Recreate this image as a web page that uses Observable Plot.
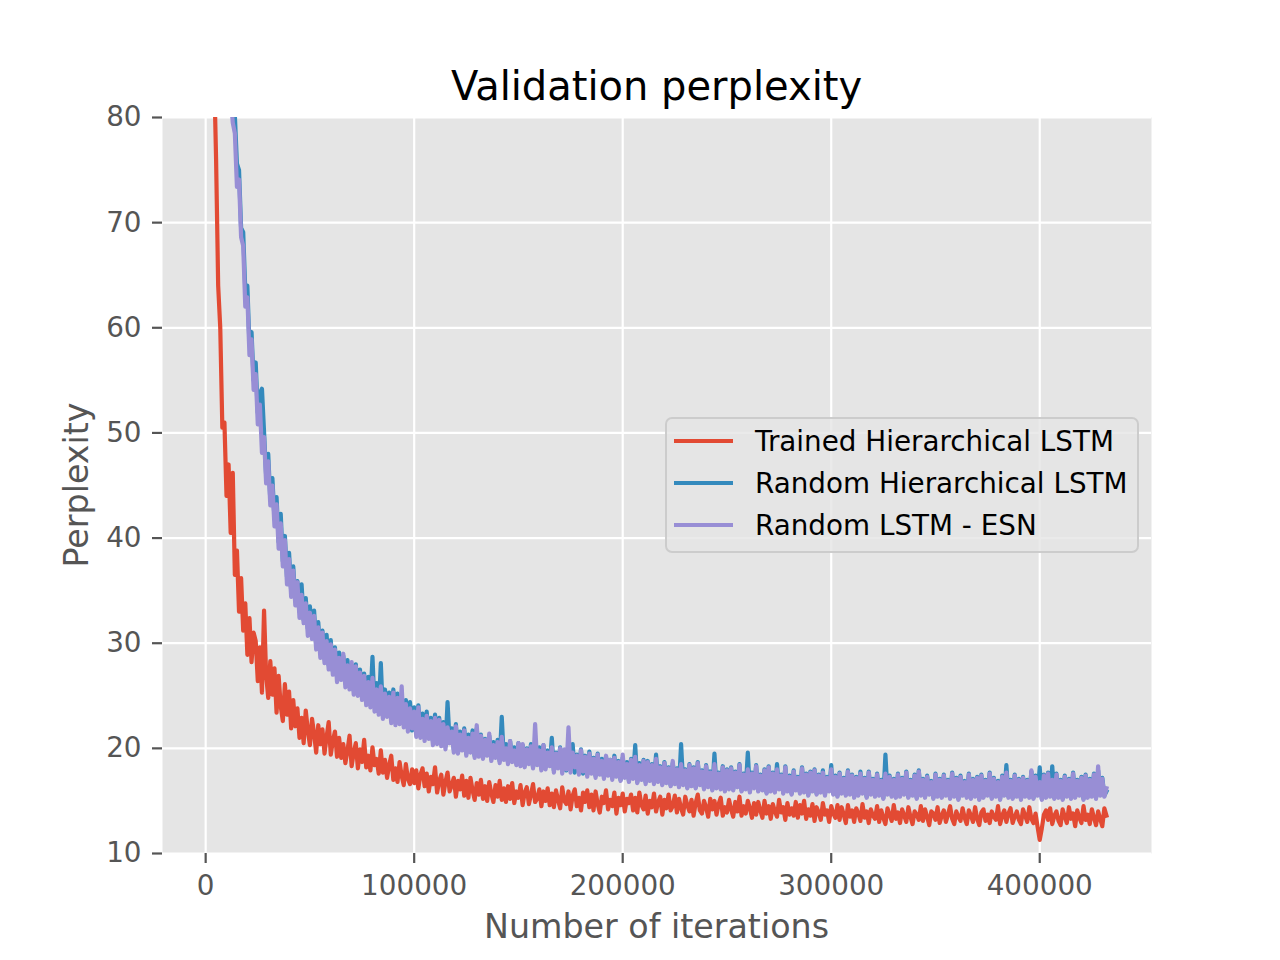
<!DOCTYPE html>
<html>
<head>
<meta charset="utf-8">
<script src="https://cdn.jsdelivr.net/npm/d3@7"></script>
<script src="https://cdn.jsdelivr.net/npm/@observablehq/plot@0.6"></script>
<style>
  html, body { margin: 0; padding: 0; background: white; overflow: hidden; }
  #chart { position: relative; width: 1280px; height: 960px; }
</style>
</head>
<body>
<div id="chart"></div>
<script>
// ---- Data ----
const seriesNames = ["Trained Hierarchical LSTM", "Random Hierarchical LSTM", "Random LSTM - ESN"];
const seriesColors = ["#E24A33", "#348ABD", "#988ED5"];
const iterStep = 1000;
const trainedStart = 4000;
const randomStart = 12000;
const xTicks = [0, 100000, 200000, 300000, 400000];
const yTicks = [10, 20, 30, 40, 50, 60, 70, 80];

// Trained Hierarchical LSTM: iterations 4000..432000, every 1000
const trained = [
  85, 76, 64, 60, 50.5, 51, 44, 47, 40.5, 46.2, 36.5, 38.8, 33, 36.2, 31.2, 33.8, 28.9, 32.4, 28.2, 31.0,
  30.2, 26.4, 29.6, 25.3, 33.1, 27.0, 24.8, 28.3, 25.1, 27.6, 23.4, 26.9, 24.0, 22.6, 26.1, 23.2, 25.4, 21.9, 24.6, 22.1,
  23.8, 21.0, 22.9, 20.5, 23.6, 21.7, 20.3, 22.8, 21.4, 19.6, 22.2, 20.4, 21.8, 19.5, 21.1, 22.5, 19.4, 20.7, 21.6, 19.2,
  21.0, 19.1, 20.4, 18.6, 19.8, 21.2, 18.3, 19.6, 20.5, 18.1, 19.9, 18.7, 20.8, 18.2, 19.3, 17.9, 20.1, 18.4, 19.0, 17.6,
  19.8, 17.7, 18.9, 17.2, 18.4, 19.3, 17.0, 18.1, 16.8, 18.7, 17.4, 16.5, 18.5, 17.1, 16.6, 18.0, 16.7, 17.9, 16.2, 17.5,
  18.1, 16.4, 17.6, 15.9, 17.3, 16.6, 18.2, 15.8, 16.9, 17.5, 15.6, 16.8, 17.7, 15.9, 16.5, 17.2, 15.4, 16.9, 16.1, 17.4,
  15.5, 16.9, 15.3, 17.2, 16.0, 15.1, 16.7, 15.6, 17.0, 15.2, 16.4, 15.0, 16.8, 15.7, 14.9, 16.5, 15.4, 16.9, 15.1, 16.2,
  14.9, 16.4, 15.2, 16.7, 14.8, 15.9, 15.3, 16.5, 14.6, 15.8, 16.3, 14.7, 15.6, 16.6, 14.9, 15.2, 16.1, 14.5, 15.9, 15.0,
  16.2, 14.6, 15.7, 14.4, 16.0, 15.1, 14.3, 16.3, 15.0, 14.7, 15.9, 14.2, 15.5, 16.1, 14.5, 15.3, 14.1, 15.8, 14.9, 16.0,
  14.4, 15.6, 14.1, 15.9, 14.7, 13.9, 15.4, 14.8, 16.0, 14.2, 15.1, 14.5, 15.8, 13.8, 15.3, 14.6, 15.7, 14.0, 15.2, 14.8,
  15.6, 14.1, 15.3, 13.9, 15.8, 14.6, 14.2, 15.5, 13.8, 15.0, 14.4, 15.7, 14.0, 14.9, 15.4, 13.7, 15.1, 14.3, 15.6, 14.1,
  14.5, 15.5, 13.9, 15.2, 14.3, 13.7, 15.4, 14.6, 14.0, 15.1, 13.6, 14.8, 15.6, 14.1, 13.8, 15.0, 14.4, 13.5, 15.2, 14.2,
  15.0, 13.7, 14.7, 15.3, 13.6, 14.4, 13.9, 15.1, 14.2, 13.5, 14.9, 14.0, 15.4, 13.6, 14.5, 13.8, 15.0, 14.3, 13.4, 14.8,
  13.7, 14.9, 14.1, 13.4, 15.0, 13.8, 14.5, 13.3, 14.7, 14.0, 13.5, 15.1, 13.9, 14.4, 13.2, 14.8, 13.7, 14.3, 13.6, 14.9,
  13.4, 14.6, 13.8, 15.0, 13.3, 14.2, 13.6, 14.7, 13.1, 14.4, 13.9, 13.2, 14.8, 13.7, 14.1, 13.0, 14.5, 13.8, 13.4, 14.6,
  13.2, 14.4, 13.7, 12.9, 14.6, 13.5, 14.1, 13.0, 14.3, 13.8, 13.1, 14.7, 13.4, 14.0, 12.9, 14.2, 13.6, 13.3, 14.5, 13.0,
  14.1, 13.4, 12.8, 14.3, 13.7, 13.1, 14.6, 13.3, 13.9, 12.9, 14.2, 13.6, 13.0, 14.4, 13.5, 12.8, 14.0, 13.7, 13.2, 14.5,
  13.1, 14.2, 13.5, 12.7, 14.0, 13.8, 13.2, 14.4, 12.9, 13.6, 14.1, 13.0, 13.7, 14.5, 13.3, 12.8, 14.0, 13.5, 13.1, 14.3,
  13.4, 12.8, 14.1, 13.6, 13.0, 14.4, 13.3, 12.7, 13.9, 14.2, 13.1, 13.7, 12.9, 14.0, 13.5, 13.2, 14.5, 12.8, 13.6, 14.1,
  13.0, 13.8, 14.3, 12.9, 13.5, 14.0, 13.2, 12.8, 14.2, 13.6, 13.0, 14.4, 13.3, 12.9, 13.8, 12.5, 11.3, 12.4, 13.7, 14.1,
  13.2, 14.3, 12.8, 13.6, 14.0, 13.1, 12.7, 14.2, 13.5, 12.9, 14.4, 13.3, 13.8, 12.6, 14.1, 13.4, 12.9, 14.5, 13.2, 13.7,
  12.8, 14.2, 13.4, 12.7, 14.0, 13.3, 12.6, 14.3, 13.6
];

// Random Hierarchical LSTM: iterations 12000..432000, every 1000
const randomHier = [
  84, 81.5, 80.2, 75.6, 75.0, 69.5, 69.1, 63.6, 64.0, 58.4, 59.6, 55.0, 56.7, 51.9, 53.8, 54.2, 50.1, 46.0, 48.0, 43.6,
  45.7, 41.8, 43.9, 39.6, 42.3, 37.8, 40.2, 36.3, 38.6, 35.0, 37.3, 34.1, 35.9, 33.0, 35.6, 32.2, 34.3, 31.4, 33.5, 30.9,
  33.1, 29.8, 32.0, 29.1, 31.2, 28.5, 30.8, 27.9, 30.3, 27.3, 29.6, 26.9, 29.1, 26.6, 28.8, 26.2, 28.4, 25.9, 27.9, 25.5,
  28.0, 25.4, 27.5, 25.0, 27.1, 24.6, 26.8, 24.4, 28.7, 24.0, 26.2, 23.6, 28.1, 23.3, 25.6, 23.2, 25.3, 22.9, 25.6, 22.6,
  25.2, 22.7, 25.0, 22.3, 24.6, 21.9, 24.4, 21.7, 23.9, 21.4, 24.1, 21.3, 23.3, 21.0, 23.5, 21.1, 22.9, 20.7, 23.2, 20.6,
  22.9, 20.4, 22.5, 20.2, 24.4, 20.6, 21.9, 19.9, 22.3, 19.7, 21.6, 19.9, 21.9, 19.5, 21.3, 19.7, 21.7, 19.3, 21.9, 19.4,
  21.3, 19.2, 20.9, 19.4, 21.2, 19.0, 20.6, 19.2, 20.8, 18.8, 23.0, 19.0, 20.4, 18.7, 20.7, 18.9, 20.1, 18.6, 20.5, 18.5,
  20.3, 18.4, 20.0, 18.6, 20.4, 18.2, 19.7, 18.5, 20.1, 18.1, 20.3, 18.2, 19.8, 18.4, 21.0, 17.9, 19.6, 18.2, 20.1, 17.8,
  19.8, 17.9, 19.5, 18.0, 20.4, 17.7, 19.4, 17.9, 19.9, 17.6, 19.3, 17.5, 19.7, 17.8, 19.1, 17.4, 19.5, 17.6, 19.0, 17.3,
  19.2, 17.5, 18.9, 17.2, 19.3, 17.4, 18.8, 17.0, 19.1, 17.3, 18.7, 16.9, 19.0, 17.2, 20.3, 16.8, 18.6, 17.1, 18.9, 16.8,
  18.8, 17.0, 18.5, 16.8, 19.4, 16.9, 18.3, 16.6, 18.7, 16.8, 18.2, 16.5, 18.6, 16.7, 18.1, 16.4, 20.4, 16.6, 18.0, 16.3,
  18.5, 16.5, 18.2, 16.3, 18.7, 16.6, 17.9, 16.2, 18.4, 16.4, 17.8, 16.1, 19.5, 16.3, 17.7, 16.2, 18.3, 16.0, 18.0, 16.2,
  18.2, 16.1, 17.8, 16.4, 18.5, 16.0, 17.6, 16.2, 19.6, 15.9, 17.7, 16.3, 18.4, 16.0, 17.5, 16.1, 18.0, 15.8, 18.3, 16.0,
  17.7, 15.9, 18.5, 16.2, 17.5, 15.8, 18.3, 16.0, 17.4, 15.7, 17.9, 16.1, 17.3, 15.8, 18.2, 15.9, 17.6, 15.6, 17.8, 16.0,
  18.0, 15.7, 17.5, 15.9, 17.9, 15.6, 17.3, 16.0, 18.4, 15.7, 17.4, 15.5, 17.7, 15.8, 17.2, 15.6, 17.9, 15.7, 17.5, 15.4,
  17.3, 15.6, 17.8, 15.8, 17.2, 15.4, 17.8, 15.7, 17.1, 15.5, 17.6, 15.6, 17.0, 15.3, 19.4, 15.7, 17.4, 15.5, 17.1, 15.4,
  17.6, 15.5, 17.2, 15.7, 17.8, 15.4, 17.0, 15.6, 17.5, 15.3, 17.9, 15.6, 17.1, 15.4, 17.4, 15.7, 16.9, 15.3, 17.6, 15.5,
  17.1, 15.4, 17.5, 15.6, 17.0, 15.3, 17.7, 15.5, 17.2, 15.2, 17.4, 15.6, 16.9, 15.4, 17.6, 15.3, 17.1, 15.5, 17.3, 15.2,
  17.5, 15.4, 17.0, 15.6, 17.7, 15.3, 17.2, 15.5, 16.9, 15.2, 17.4, 15.6, 18.4, 15.4, 17.0, 15.3, 17.5, 15.5, 17.1, 15.2,
  17.3, 15.5, 17.0, 15.4, 17.8, 15.3, 17.4, 15.6, 18.2, 15.2, 17.5, 15.4, 17.7, 15.5, 18.3, 15.3, 17.6, 15.4, 17.0, 15.2,
  17.4, 15.5, 17.1, 15.3, 17.7, 15.4, 17.0, 15.6, 17.3, 15.2, 17.5, 15.4, 17.1, 15.5, 17.6, 15.3, 17.9, 15.6, 17.2, 15.5,
  15.9
];

// Random LSTM - ESN: iterations 12000..432000, every 1000
const randomEsn = [
  82, 79.5, 78.5, 73.4, 74.1, 68.6, 67.8, 62.0, 62.9, 57.4, 58.9, 54.1, 55.6, 50.8, 52.7, 48.1, 49.6, 45.2, 47.3, 43.1,
  45.0, 41.1, 43.2, 39.0, 41.4, 37.3, 39.8, 35.6, 38.0, 34.4, 36.9, 33.6, 35.8, 32.4, 34.6, 31.9, 33.8, 30.7, 32.9, 30.4,
  32.6, 29.4, 31.5, 28.6, 31.0, 28.1, 30.2, 27.5, 29.9, 27.0, 29.4, 26.3, 28.6, 26.5, 29.0, 25.8, 27.9, 25.6, 28.2, 25.1,
  27.8, 25.0, 27.2, 24.6, 26.9, 24.1, 26.3, 23.9, 26.7, 23.5, 25.6, 23.2, 25.9, 22.8, 25.2, 23.0, 24.9, 22.4, 25.3, 22.2,
  24.8, 22.3, 25.9, 22.0, 24.2, 21.6, 23.8, 21.9, 23.5, 21.1, 23.9, 21.0, 22.8, 20.7, 23.1, 20.9, 22.6, 20.3, 22.9, 20.4,
  22.7, 20.2, 22.3, 19.9, 22.0, 20.5, 21.6, 19.6, 22.1, 19.5, 21.3, 19.8, 21.7, 19.3, 21.0, 19.6, 21.4, 19.1, 22.2, 19.2,
  21.2, 19.0, 20.8, 19.3, 21.4, 18.8, 20.3, 19.1, 20.6, 18.6, 21.1, 18.9, 20.0, 18.5, 20.7, 18.7, 19.8, 18.4, 20.5, 18.3,
  20.4, 18.2, 19.9, 18.5, 20.2, 18.1, 22.3, 18.4, 19.8, 17.9, 20.3, 18.0, 19.6, 18.3, 20.1, 17.7, 19.5, 18.1, 20.0, 17.6,
  19.9, 18.0, 22.0, 17.7, 19.6, 18.2, 19.3, 17.5, 19.8, 17.8, 19.2, 17.3, 19.5, 17.6, 19.0, 17.2, 19.4, 17.5, 18.8, 17.1,
  19.3, 17.4, 18.9, 17.0, 19.1, 17.3, 18.7, 16.9, 19.4, 17.2, 18.5, 16.8, 18.9, 17.1, 19.2, 16.7, 18.4, 17.0, 18.8, 16.6,
  18.7, 16.9, 18.4, 16.6, 19.0, 16.8, 18.2, 16.5, 18.6, 16.7, 18.1, 16.4, 18.8, 16.6, 18.0, 16.3, 18.5, 16.5, 17.9, 16.2,
  18.4, 16.4, 18.1, 16.2, 18.6, 16.5, 17.8, 16.1, 18.3, 16.3, 17.7, 16.0, 18.5, 16.2, 17.6, 16.1, 18.2, 15.9, 17.9, 16.1,
  18.1, 16.0, 17.7, 16.3, 18.4, 15.9, 17.5, 16.1, 18.0, 15.8, 17.6, 16.2, 18.3, 15.9, 17.4, 16.0, 17.9, 15.7, 18.2, 15.9,
  17.6, 15.8, 18.0, 16.1, 17.4, 15.7, 18.2, 15.9, 17.3, 15.6, 17.8, 16.0, 17.2, 15.7, 18.1, 15.8, 17.5, 15.5, 17.7, 15.9,
  17.9, 15.6, 17.4, 15.8, 17.7, 15.5, 17.2, 15.9, 18.0, 15.6, 17.3, 15.4, 17.6, 15.7, 17.1, 15.5, 17.8, 15.6, 17.4, 15.3,
  17.2, 15.5, 17.6, 15.7, 17.1, 15.3, 17.7, 15.6, 17.0, 15.4, 17.5, 15.5, 16.9, 15.2, 17.6, 15.6, 17.3, 15.4, 17.0, 15.3,
  17.5, 15.4, 17.1, 15.6, 17.7, 15.3, 16.9, 15.5, 17.4, 15.2, 17.8, 15.5, 17.0, 15.3, 17.3, 15.6, 16.8, 15.2, 17.5, 15.4,
  17.0, 15.3, 17.4, 15.5, 16.9, 15.2, 17.6, 15.4, 17.1, 15.1, 17.3, 15.5, 16.8, 15.3, 17.5, 15.2, 17.0, 15.4, 17.2, 15.1,
  17.4, 15.3, 16.9, 15.5, 17.6, 15.2, 17.1, 15.4, 16.8, 15.1, 17.3, 15.5, 17.7, 15.3, 16.9, 15.2, 17.4, 15.4, 17.0, 15.1,
  17.2, 15.4, 16.9, 15.3, 17.9, 15.2, 17.3, 15.5, 16.8, 15.1, 17.4, 15.3, 17.6, 15.4, 17.0, 15.2, 17.5, 15.3, 16.9, 15.1,
  17.3, 15.4, 17.0, 15.2, 17.6, 15.3, 16.9, 15.5, 17.2, 15.1, 17.4, 15.3, 17.0, 15.4, 17.5, 15.2, 18.3, 15.5, 17.1, 15.4,
  16.2
];

// ---- Build tidy rows ----
const toRows = (values, start) => values.map((v, i) => ({iter: start + i * iterStep, value: v}));
const rowsTrained = toRows(trained, trainedStart);
const rowsHier = toRows(randomHier, randomStart);
const rowsEsn = toRows(randomEsn, randomStart);

const W = 1280, H = 960;
const mLeft = 162, mRight = 129, mTop = 117, mBottom = 107;
const lineOpts = {strokeWidth: 4.2, strokeLinejoin: "round", strokeLinecap: "square", clip: true};

const svg = Plot.plot({
  width: W,
  height: H,
  marginLeft: mLeft,
  marginRight: mRight,
  marginTop: mTop,
  marginBottom: mBottom,
  style: {fontFamily: "DejaVu Sans", background: "white", overflow: "visible"},
  x: {domain: [-20700, 453600], label: null},
  y: {domain: [10, 80], label: null},
  marks: [
    Plot.frame({fill: "#E5E5E5", stroke: "none"}),
    Plot.gridX({ticks: xTicks, stroke: "white", strokeOpacity: 1, strokeWidth: 2.2}),
    Plot.gridY({ticks: yTicks, stroke: "white", strokeOpacity: 1, strokeWidth: 2.2}),
    Plot.lineY(rowsTrained, {x: "iter", y: "value", stroke: seriesColors[0], ...lineOpts}),
    Plot.lineY(rowsHier, {x: "iter", y: "value", stroke: seriesColors[1], ...lineOpts}),
    Plot.lineY(rowsEsn, {x: "iter", y: "value", stroke: seriesColors[2], ...lineOpts}),
    Plot.axisX({ticks: xTicks, tickFormat: d => String(d), tickSize: 10, tickPadding: 12,
      fontSize: 27.8, color: "#555555", strokeWidth: 2.2, label: null}),
    Plot.axisY({ticks: yTicks, tickFormat: d => String(d), tickSize: 10, tickPadding: 11,
      fontSize: 27.8, color: "#555555", strokeWidth: 2.2, label: null})
  ]
});

document.getElementById("chart").appendChild(svg);

// ---- Title, axis labels, legend (layout text) ----
const s = d3.select(svg);
const plotCx = (mLeft + (W - mRight)) / 2;

s.append("text")
  .attr("x", plotCx).attr("y", 100)
  .attr("text-anchor", "middle")
  .attr("font-family", "DejaVu Sans").attr("font-size", 40).attr("fill", "#000")
  .text("Validation perplexity");

s.append("text")
  .attr("x", plotCx).attr("y", 938)
  .attr("text-anchor", "middle")
  .attr("font-family", "DejaVu Sans").attr("font-size", 33.3).attr("fill", "#555555")
  .text("Number of iterations");

s.append("text")
  .attr("transform", `translate(88, ${(mTop + (H - mBottom)) / 2}) rotate(-90)`)
  .attr("text-anchor", "middle")
  .attr("font-family", "DejaVu Sans").attr("font-size", 33.3).attr("fill", "#555555")
  .text("Perplexity");

const lg = s.append("g").attr("transform", "translate(666, 418)");
lg.append("rect")
  .attr("x", 0).attr("y", 0).attr("width", 472).attr("height", 134)
  .attr("rx", 6).attr("ry", 6)
  .attr("fill", "#E5E5E5").attr("fill-opacity", 0.8)
  .attr("stroke", "#CCCCCC").attr("stroke-width", 2);
seriesNames.forEach((name, i) => {
  const cy = 23 + i * 42;
  lg.append("line")
    .attr("x1", 8).attr("x2", 67).attr("y1", cy).attr("y2", cy)
    .attr("stroke", seriesColors[i]).attr("stroke-width", 4.2);
  lg.append("text")
    .attr("x", 89).attr("y", cy + 10)
    .attr("text-anchor", "start")
    .attr("font-family", "DejaVu Sans").attr("font-size", 27.8).attr("fill", "#000")
    .text(name);
});
</script>
</body>
</html>
